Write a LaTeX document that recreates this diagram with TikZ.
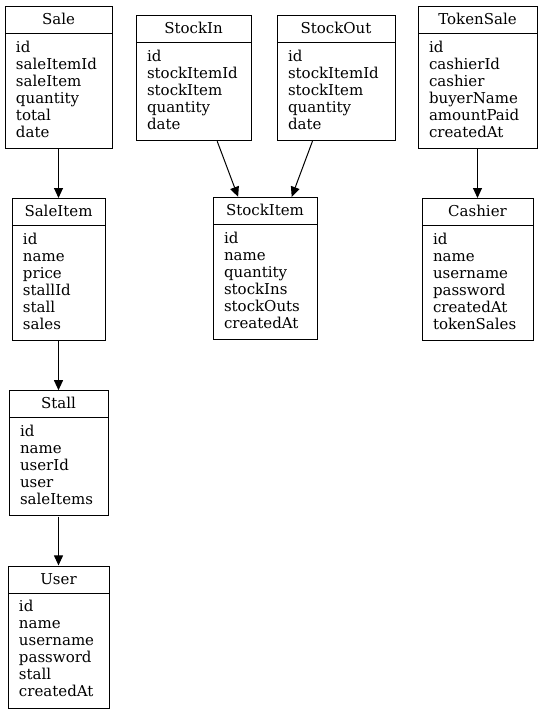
\documentclass[tikz,border=0pt]{standalone}
\usepackage{fontspec}
\setmainfont{DejaVu Serif}
\usetikzlibrary{positioning,fit,arrows.meta}

\newcommand{\topstrut}{\rule{0pt}{18.5pt}}
\newcommand{\lowstrut}{\rule[-11.5pt]{0pt}{0pt}}

\begin{document}
\begin{tikzpicture}[
				x=1pt, y=-1pt,
				every node/.style={font=\fontsize{15}{17}\selectfont},
				head/.style={draw, line width=1pt, anchor=north, inner ysep=0pt, text height=18pt, text depth=9pt},
				fields/.style={draw, line width=1pt, align=left, inner xsep=11pt, inner ysep=0pt},
				entity/.style={inner sep=0pt},
				link/.style={draw, line width=1pt, -{Triangle[length=10pt,width=9pt]}}
				]
				
				\useasboundingbox (0,0) rectangle (542,713);
				
				% top row
				\node[head, minimum width=107pt] (SaleHead) at (58.5,6) {Sale};
				\node[fields, text width=85pt, below=-1pt of SaleHead] (SaleBody)
					{\topstrut id\\saleItemId\\saleItem\\quantity\\total\\date\lowstrut};
				\node[entity, fit=(SaleHead)(SaleBody)] (Sale) {};
				
				\node[head, minimum width=115pt] (StockInHead) at (193.5,15) {StockIn};
				\node[fields, text width=93pt, below=-1pt of StockInHead] (StockInBody)
					{\topstrut id\\stockItemId\\stockItem\\quantity\\date\lowstrut};
				\node[entity, fit=(StockInHead)(StockInBody)] (StockIn) {};
				
				\node[head, minimum width=118pt] (StockOutHead) at (336,15) {StockOut};
				\node[fields, text width=96pt, below=-1pt of StockOutHead] (StockOutBody)
					{\topstrut id\\stockItemId\\stockItem\\quantity\\date\lowstrut};
				\node[entity, fit=(StockOutHead)(StockOutBody)] (StockOut) {};
				
				\node[head, minimum width=119pt] (TokenSaleHead) at (477.5,6) {TokenSale};
				\node[fields, text width=97pt, below=-1pt of TokenSaleHead] (TokenSaleBody)
					{\topstrut id\\cashierId\\cashier\\buyerName\\amountPaid\\createdAt\lowstrut};
				\node[entity, fit=(TokenSaleHead)(TokenSaleBody)] (TokenSale) {};
				
				% second row
				\node[head, minimum width=93pt, below=49pt of Sale] (SaleItemHead) {SaleItem};
				\node[fields, text width=71pt, below=-1pt of SaleItemHead] (SaleItemBody)
					{\topstrut id\\name\\price\\stallId\\stall\\sales\lowstrut};
				\node[entity, fit=(SaleItemHead)(SaleItemBody)] (SaleItem) {};
				
				\node[head, minimum width=104pt] (StockItemHead) at (265,197) {StockItem};
				\node[fields, text width=82pt, below=-1pt of StockItemHead] (StockItemBody)
					{\topstrut id\\name\\quantity\\stockIns\\stockOuts\\createdAt\lowstrut};
				\node[entity, fit=(StockItemHead)(StockItemBody)] (StockItem) {};
				
				\node[head, minimum width=111pt, below=49pt of TokenSale] (CashierHead) {Cashier};
				\node[fields, text width=89pt, below=-1pt of CashierHead] (CashierBody)
					{\topstrut id\\name\\username\\password\\createdAt\\tokenSales\lowstrut};
				\node[entity, fit=(CashierHead)(CashierBody)] (Cashier) {};
				
				% lower chain
				\node[head, minimum width=99pt, below=49pt of SaleItem] (StallHead) {Stall};
				\node[fields, text width=77pt, below=-1pt of StallHead] (StallBody)
					{\topstrut id\\name\\userId\\user\\saleItems\lowstrut};
				\node[entity, fit=(StallHead)(StallBody)] (Stall) {};
				
				\node[head, minimum width=101pt, below=49pt of Stall] (UserHead) {User};
				\node[fields, text width=79pt, below=-1pt of UserHead] (UserBody)
					{\topstrut id\\name\\username\\password\\stall\\createdAt\lowstrut};
				\node[entity, fit=(UserHead)(UserBody)] (User) {};
				
				\draw[link] (Sale) -- (SaleItem);
				\draw[link] (SaleItem) -- (Stall);
				\draw[link] (Stall) -- (User);
				\draw[link] (StockIn) -- (StockItem);
				\draw[link] (StockOut) -- (StockItem);
				\draw[link] (TokenSale) -- (Cashier);
				
			\end{tikzpicture}
\end{document}
